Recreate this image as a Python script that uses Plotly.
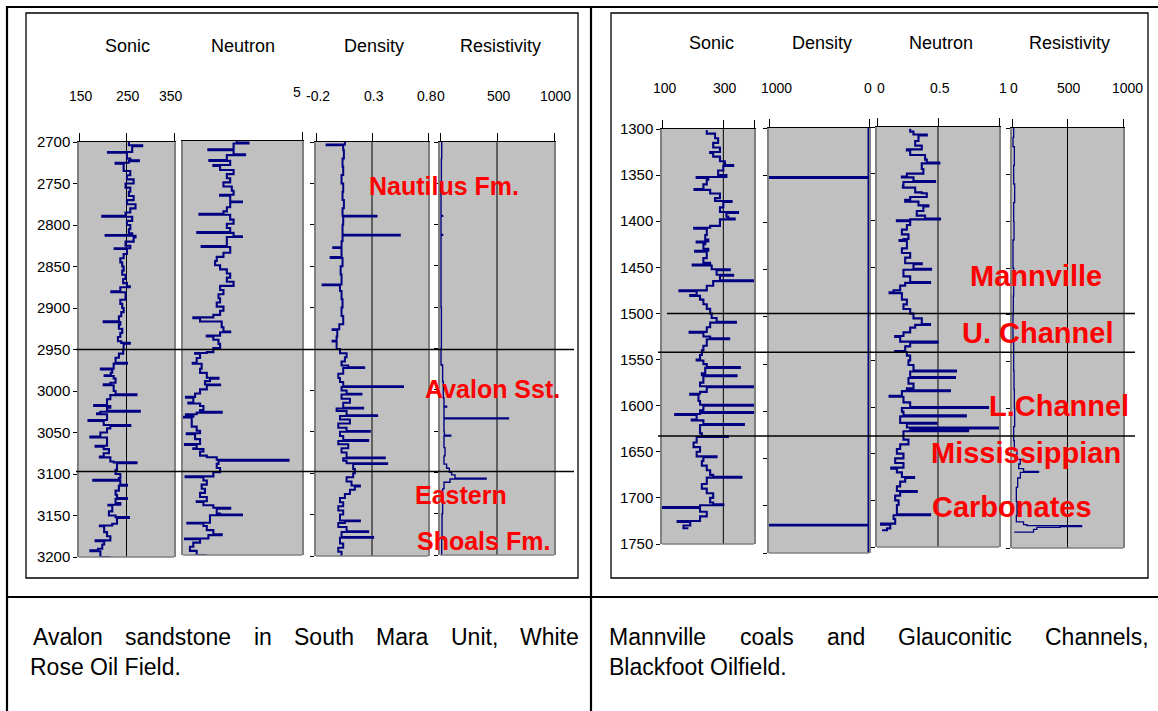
import plotly.graph_objects as go

# ---------------- data ----------------
# Left well: Avalon sandstone, South Mara Unit (depth 2700-3200)
L_SONIC_DEPTH = [2700,2704,2705,2712,2713,2720,2722,2723,2725,2726,
                 2730,2735,2740,2745,2750,2755,2760,2765,2770,2775,
                 2780,2785,2789,2790,2795,2800,2805,2810,2812,2813,
                 2815,2820,2825,2828,2829,2835,2840,2845,2850,2855,
                 2860,2865,2870,2874,2875,2880,2881,2885,2890,2895,
                 2900,2905,2910,2916,2917,2920,2925,2930,2935,2940,
                 2942,2943,2945,2950,2955,2960,2966,2967,2973,2974,
                 2978,2981,2982,2985,2990,2992,2993,2995,3000,3004,
                 3005,3010,3017,3018,3020,3024,3025,3027,3028,3030,
                 3035,3036,3041,3042,3045,3050,3055,3056,3060,3066,
                 3067,3070,3075,3079,3080,3085,3086,3087,3090,3095,
                 3100,3105,3107,3108,3113,3114,3120,3125,3129,3130,
                 3135,3137,3138,3140,3145,3150,3152,3153,3155,3160,
                 3162,3163,3165,3170,3175,3180,3181,3185,3190,3192,
                 3193,3195,3200]
L_SONIC = [255,283,262,211,251,258,276,255,227,244,
           244,258,251,265,248,258,255,265,251,269,
           258,248,199,262,251,258,255,262,206,269,
           265,248,258,225,251,244,237,241,244,241,
           248,243,251,257,237,218,248,248,237,241,
           244,239,234,202,237,234,241,237,232,239,
           257,244,244,243,234,227,251,223,196,220,
           217,204,223,227,216,202,223,223,227,271,
           216,209,182,216,209,278,195,188,209,209,
           170,202,258,216,209,195,174,209,209,185,
           202,213,202,194,216,223,271,230,230,227,
           237,234,180,237,251,234,227,230,251,227,
           237,212,220,220,213,227,255,230,230,220,
           194,203,203,209,216,185,203,199,190,174,
           195,195,216]

L_NEUTRON_DEPTH = [2700,2702,2703,2710,2711,2716,2717,2723,2724,2729,
                   2730,2735,2740,2745,2750,2755,2760,2765,2766,2773,
                   2774,2780,2785,2788,2789,2795,2800,2805,2810,2811,
                   2815,2816,2820,2827,2828,2835,2840,2845,2850,2855,
                   2860,2865,2870,2875,2880,2885,2890,2895,2900,2905,
                   2910,2913,2914,2918,2925,2930,2931,2935,2936,2940,
                   2945,2950,2955,2956,2957,2962,2968,2969,2975,2980,
                   2986,2987,2990,2994,2995,3000,3005,3009,3010,3016,
                   3017,3020,3025,3027,3028,3030,3031,3033,3034,3040,
                   3045,3050,3053,3054,3060,3066,3067,3071,3072,3075,
                   3080,3082,3085,3086,3090,3095,3100,3105,3106,3110,
                   3115,3120,3125,3130,3135,3136,3140,3143,3144,3150,
                   3151,3152,3155,3161,3162,3165,3170,3175,3176,3180,
                   3181,3185,3190,3195,3200]
L_NEUTRON = [0.179,0.120,0.195,0.322,0.195,0.137,0.229,0.317,0.212,0.297,
             0.263,0.195,0.229,0.212,0.246,0.204,0.195,0.263,0.212,0.153,
             0.212,0.229,0.246,0.367,0.212,0.195,0.229,0.212,0.378,0.195,
             0.153,0.229,0.229,0.356,0.212,0.246,0.280,0.288,0.263,0.229,
             0.212,0.229,0.195,0.263,0.246,0.271,0.263,0.280,0.246,0.263,
             0.297,0.398,0.364,0.255,0.246,0.212,0.263,0.330,0.297,0.271,
             0.263,0.297,0.330,0.389,0.364,0.381,0.401,0.356,0.364,0.330,
             0.271,0.314,0.339,0.263,0.330,0.364,0.389,0.435,0.398,0.423,
             0.364,0.347,0.364,0.255,0.381,0.435,0.398,0.448,0.406,0.406,
             0.381,0.364,0.431,0.389,0.364,0.440,0.381,0.398,0.347,0.364,
             0.330,0.280,-0.082,0.271,0.280,0.263,0.297,0.437,0.347,0.330,
             0.356,0.339,0.364,0.330,0.381,0.347,0.297,0.212,0.280,0.263,
             0.153,0.314,0.314,0.428,0.347,0.330,0.297,0.255,0.322,0.440,
             0.364,0.398,0.415,0.381,0.330]

L_DENSITY_DEPTH = [2700,2703,2704,2710,2720,2730,2740,2750,2760,2770,
                   2780,2789,2790,2800,2812,2813,2820,2827,2828,2839,
                   2840,2850,2860,2872,2873,2880,2890,2900,2910,2920,
                   2926,2927,2935,2940,2941,2950,2955,2960,2965,2970,
                   2972,2973,2980,2985,2990,2995,2996,3000,3004,3005,
                   3010,3015,3021,3022,3025,3030,3031,3035,3040,3045,
                   3049,3050,3055,3060,3061,3065,3070,3075,3081,3082,
                   3085,3088,3089,3095,3100,3105,3110,3115,3116,3120,
                   3125,3130,3135,3140,3145,3150,3157,3158,3160,3165,
                   3170,3171,3177,3178,3185,3190,3195,3200]
L_DENSITY = [0.058,-0.105,0.043,0.049,0.037,0.043,0.028,0.043,0.037,0.049,
             0.037,0.340,0.043,0.037,0.548,0.037,0.028,-0.046,0.028,-0.069,
             0.037,0.020,0.028,-0.141,0.014,0.028,0.037,0.028,0.043,0.008,
             -0.052,-0.010,-0.016,-0.052,-0.016,0.014,0.073,0.058,0.028,0.088,
             0.230,0.043,-0.001,0.014,0.043,0.577,0.028,0.073,0.206,0.028,
             0.103,0.043,0.221,-0.016,0.073,0.346,0.014,0.103,-0.001,0.073,
             0.281,0.014,0.043,0.266,-0.001,0.088,0.028,0.073,0.414,0.043,
             0.073,0.435,0.132,0.147,0.132,0.073,0.117,0.192,0.147,0.103,
             0.058,0.014,0.043,-0.001,0.043,0.014,0.192,0.058,-0.001,0.073,
             0.266,0.028,0.310,0.014,0.043,-0.001,0.028,0.014]

L_RESIST_DEPTH = [2700,2720,2750,2789,2790,2812,2813,2850,2900,2950,
                  2970,2990,3010,3020,3021,3034,3035,3050,3055,3056,
                  3070,3080,3090,3095,3100,3103,3107,3108,3112,3120,
                  3150,3180,3200]
L_RESIST = [15,12,9,23,9,23,9,9,12,9,
            23,29,35,58,35,600,35,38,94,35,
            44,35,58,82,102,132,404,88,35,23,
            18,15,12]

# Right well: Mannville / Glauconitic channels, Blackfoot (depth 1300-1750)
R_SONIC_DEPTH = [1301,1305,1310,1315,1320,1325,1326,1330,1335,1339,
                 1340,1345,1350,1352,1353,1355,1360,1365,1366,1370,
                 1375,1378,1379,1385,1390,1391,1395,1397,1398,1400,
                 1405,1407,1408,1415,1420,1422,1423,1425,1430,1432,
                 1433,1440,1445,1447,1448,1450,1452,1453,1458,1459,
                 1464,1465,1470,1475,1476,1480,1481,1485,1490,1495,
                 1500,1505,1509,1510,1515,1520,1521,1525,1527,1528,
                 1535,1540,1545,1550,1551,1555,1558,1559,1565,1567,
                 1568,1575,1579,1580,1585,1587,1588,1595,1599,1600,
                 1605,1607,1608,1609,1610,1615,1616,1620,1621,1625,
                 1630,1633,1634,1640,1645,1650,1655,1656,1660,1665,
                 1670,1675,1677,1678,1685,1690,1695,1700,1705,1707,
                 1708,1710,1711,1715,1720,1725,1726,1730,1733]
R_SONIC = [246,273,283,267,289,257,267,289,305,332,
           300,283,310,213,251,246,235,206,257,289,
           273,327,300,289,348,310,316,337,289,289,
           257,205,246,241,251,213,241,235,251,208,
           246,235,257,200,262,262,321,278,332,289,
           397,267,246,157,213,192,224,235,246,257,
           262,278,341,257,246,190,235,257,319,246,
           235,230,224,213,235,246,354,241,230,343,
           235,224,400,246,224,192,219,224,397,235,
           224,399,224,143,213,197,235,367,224,224,
           230,315,213,203,224,213,278,235,230,246,
           257,267,359,246,230,246,267,257,267,300,
           224,100,224,246,224,151,192,170,186]

R_DENSITY_DEPTH = [1300,1352,1352,1353,1353,1720,1720,1721,1721,1750]
R_DENSITY = [5,5,1000,1000,5,5,1000,1000,5,5]

R_NEUTRON_DEPTH = [1302,1305,1308,1309,1315,1320,1324,1325,1330,1335,
                   1338,1339,1345,1350,1353,1354,1358,1359,1363,1365,
                   1370,1371,1375,1378,1380,1384,1385,1390,1395,1398,
                   1399,1400,1401,1405,1410,1415,1420,1421,1422,1430,
                   1435,1440,1446,1447,1452,1453,1460,1466,1467,1470,
                   1475,1477,1478,1485,1490,1495,1500,1505,1511,1512,
                   1515,1520,1524,1525,1530,1531,1535,1540,1541,1545,
                   1550,1555,1561,1562,1568,1569,1575,1580,1582,1583,
                   1588,1589,1595,1600,1601,1605,1609,1610,1617,1618,
                   1622,1623,1625,1626,1630,1635,1640,1645,1650,1655,
                   1660,1665,1666,1670,1675,1676,1680,1685,1690,1691,
                   1695,1700,1705,1715,1716,1720,1725,1726,1730,1732]
R_NEUTRON = [0.272,0.299,0.408,0.340,0.313,0.367,0.245,0.272,0.394,0.408,
             0.511,0.367,0.380,0.245,0.204,0.299,0.476,0.217,0.212,0.313,
             0.367,0.408,0.272,0.231,0.340,0.421,0.380,0.326,0.394,0.516,
             0.272,0.163,0.272,0.245,0.204,0.258,0.217,0.185,0.245,0.204,
             0.272,0.231,0.367,0.299,0.443,0.217,0.272,0.435,0.231,0.190,
             0.136,0.103,0.204,0.245,0.217,0.272,0.299,0.367,0.435,0.313,
             0.272,0.217,0.149,0.190,0.497,0.272,0.231,0.149,0.245,0.272,
             0.258,0.299,0.647,0.272,0.639,0.258,0.299,0.245,0.598,0.204,
             0.103,0.217,0.272,0.910,0.204,0.217,0.728,0.190,0.489,0.245,
             0.992,0.272,0.747,0.217,0.217,0.258,0.190,0.163,0.217,0.149,
             0.217,0.117,0.163,0.204,0.304,0.231,0.190,0.163,0.326,0.190,
             0.149,0.177,0.163,0.435,0.136,0.149,0.033,0.109,0.082,0.041]

R_RESIST_DEPTH = [1300,1310,1320,1340,1360,1380,1400,1420,1450,1480,
                  1500,1530,1560,1580,1600,1620,1635,1645,1650,1655,
                  1660,1665,1668,1669,1675,1685,1700,1715,1722,1725,
                  1726,1727,1728,1730,1733]
R_RESIST = [15,9,21,15,24,15,18,9,15,12,
            9,15,18,21,24,15,21,45,30,75,
            60,104,239,75,51,39,45,39,104,134,
            627,433,224,194,20]

# formation tops
L_TOPS = [2950, 3097]
R_TOPS = [1500, 1542, 1633]

# texts
L_HEADERS = ["Sonic", "Neutron", "Density", "Resistivity"]
R_HEADERS = ["Sonic", "Density", "Neutron", "Resistivity"]
L_SCALE_LABELS = ["150", "250", "350", "5", "-0.2", "0.3", "0.8", "0", "500", "1000"]
R_SCALE_LABELS = ["100", "300", "1000", "0", "0", "0.5", "1", "0", "500", "1000"]
L_FORMATIONS = ["Nautilus Fm.", "Avalon Sst.", "Eastern", "Shoals Fm."]
R_FORMATIONS = ["Mannville", "U. Channel", "L.Channel", "Mississippian", "Carbonates"]
L_CAPTION = ["Avalon sandstone in South Mara Unit, White", "Rose Oil Field."]
R_CAPTION = ["Mannville coals and Glauconitic Channels,", "Blackfoot Oilfield."]

# ---------------- layout helpers ----------------
W, H = 1158, 711
def px(x): return x / W
def py(y): return 1 - y / H

NAVY = "#000080"
EDGE = "#808080"
FONT = "Arial, Liberation Sans, sans-serif"

TRACKS = [
    dict(x0=79, x1=174, yt=142, yb=557, xr=[150, 350], tv=[150, 250, 350], mid=250, lt="labels", dr=[3200, 2700], t0=2700),
    dict(x0=183, x1=302, yt=141, yb=555, xr=[0.45, -0.15], tv=[-0.15], mid=None, lt=None, dr=[3200, 2700], t0=2700),
    dict(x0=316, x1=428, yt=142, yb=556, xr=[-0.2, 0.8], tv=[-0.2, 0.3, 0.8], mid=0.3, lt="ticks", dr=[3200, 2700], t0=2700),
    dict(x0=440, x1=554, yt=142, yb=555, xr=[0, 1000], tv=[0, 500, 1000], mid=500, lt="ticks", dr=[3200, 2700], t0=2700),
    dict(x0=662, x1=754, yt=129, yb=544, xr=[100, 400], tv=[100, 300, 400], mid=300, lt="labels", dr=[1750, 1300], t0=1300),
    dict(x0=769, x1=869, yt=128, yb=553, xr=[1000, 0], tv=[1000, 0], mid=None, lt="ticks", dr=[1750, 1300], t0=1300),
    dict(x0=877, x1=999, yt=127, yb=547, xr=[0, 1], tv=[0, 0.5, 1], mid=0.5, lt="ticks", dr=[1750, 1300], t0=1300),
    dict(x0=1012, x1=1123, yt=128, yb=548, xr=[0, 1000], tv=[0, 500, 1000], mid=500, lt="ticks", dr=[1750, 1300], t0=1300),
]

# (values, depths, line shape, line width)
CURVES = [
    (L_SONIC, L_SONIC_DEPTH, "vh", 2.1), (L_NEUTRON, L_NEUTRON_DEPTH, "vh", 2.1),
    (L_DENSITY, L_DENSITY_DEPTH, "vh", 2.0), (L_RESIST, L_RESIST_DEPTH, "vh", 1.4),
    (R_SONIC, R_SONIC_DEPTH, "vh", 2.1), (R_DENSITY, R_DENSITY_DEPTH, "linear", 2.0),
    (R_NEUTRON, R_NEUTRON_DEPTH, "vh", 2.1), (R_RESIST, R_RESIST_DEPTH, "vh", 1.3),
]

fig = go.Figure()
layout = {}
shapes = []
for i, (t, (vals, deps, shp, lw)) in enumerate(zip(TRACKS, CURVES)):
    assert len(vals) == len(deps)
    n = "" if i == 0 else str(i + 1)
    fig.add_trace(go.Scatter(x=vals, y=deps, mode="lines", xaxis="x" + n, yaxis="y" + n,
                             line=dict(color=NAVY, width=lw, shape=shp),
                             showlegend=False, hoverinfo="skip"))
    layout["xaxis" + n] = dict(domain=[px(t["x0"]), px(t["x1"])], range=t["xr"], anchor="y" + n,
                               side="top", showline=True, linecolor="black", linewidth=1,
                               ticks="outside", ticklen=8, tickcolor="black", tickwidth=1,
                               tickmode="array", tickvals=t["tv"], showticklabels=False,
                               showgrid=False, zeroline=False, fixedrange=True, automargin=False)
    layout["yaxis" + n] = dict(domain=[py(t["yb"]), py(t["yt"])], range=t["dr"], anchor="x" + n,
                               showline=True, linecolor=EDGE, linewidth=1.5, mirror=True,
                               ticks="outside" if t["lt"] else "", ticklen=4, tickcolor="black",
                               tickmode="linear", tick0=t["t0"], dtick=50,
                               showticklabels=(t["lt"] == "labels"),
                               tickfont=dict(size=15, family=FONT, color="black"),
                               showgrid=False, zeroline=False, fixedrange=True, automargin=False)
    # bottom edge of track
    shapes.append(dict(type="line", xref="x" + n + " domain", yref="y" + n + " domain",
                       x0=0, x1=1, y0=0, y1=0, line=dict(color=EDGE, width=1.5)))
    if t["mid"] is not None:
        shapes.append(dict(type="line", xref="x" + n, yref="y" + n + " domain",
                           x0=t["mid"], x1=t["mid"], y0=0, y1=1, layer="below",
                           line=dict(color="black", width=1)))

# formation top lines
for d in L_TOPS:
    shapes.append(dict(type="line", xref="paper", yref="y", x0=px(76), x1=px(574),
                       y0=d, y1=d, line=dict(color="black", width=1.5)))
for j, d in enumerate(R_TOPS):
    shapes.append(dict(type="line", xref="paper", yref="y5", x0=px(667 if j == 0 else 658), x1=px(1135),
                       y0=d, y1=d, line=dict(color="black", width=1.5)))

# table / frame lines
def pline(x0, y0, x1, y1, w):
    shapes.append(dict(type="line", xref="paper", yref="paper", x0=px(x0), x1=px(x1),
                       y0=py(y0), y1=py(y1), line=dict(color="black", width=w)))
pline(6, 7, 1158, 7, 2.2)
pline(7, 6, 7, 711, 2.2)
pline(591, 6, 591, 711, 2.2)
pline(6, 597, 1158, 597, 2.2)
for (a, b) in [(26, 578), (611, 1148)]:
    shapes.append(dict(type="rect", xref="paper", yref="paper", x0=px(a), x1=px(b),
                       y0=py(578), y1=py(13), line=dict(color="black", width=1.3)))

ann = []
def text(x, y, s, size, color="black", anchor="center", bold=False):
    ann.append(dict(x=px(x), y=py(y), xref="paper", yref="paper", text=("<b>%s</b>" % s) if bold else s,
                    showarrow=False, xanchor=anchor, yanchor="middle",
                    font=dict(family=FONT, size=size, color=color)))

for s, x in zip(L_HEADERS, [127, 243, 374, 500]):
    text(x, 46, s, 18)
for s, x in zip(R_HEADERS, [711, 822, 941, 1069]):
    text(x, 43, s, 18)
for s, x in zip(L_SCALE_LABELS, [81, 128, 171, 297, 318, 374, 427, 441, 499, 555]):
    text(x, 96 if s != "5" else 92, s, 14)
for s, x in zip(R_SCALE_LABELS, [665, 725, 776, 868, 881, 940, 1003, 1014, 1069, 1127]):
    text(x, 88, s, 14)

RED = "#ff0000"
for s, (x, y) in zip(L_FORMATIONS, [(444, 186), (492, 389), (461, 495), (483, 541)]):
    text(x, y, s, 25, RED, bold=True)
for s, (x, y) in zip(R_FORMATIONS, [(1036, 276), (1037, 333), (1059, 406), (1026, 453), (1012, 507)]):
    text(x, y, s, 29, RED, bold=True)

# justified captions (Arial metrics, 1/1000 em)
AW = {' ': 278, ',': 278, '.': 278, 'A': 667, 'B': 667, 'C': 722, 'F': 611, 'G': 778, 'M': 833,
      'O': 778, 'R': 722, 'S': 667, 'U': 722, 'W': 944, 'a': 556, 'b': 556, 'c': 500, 'd': 556,
      'e': 556, 'f': 278, 'h': 556, 'i': 222, 'k': 500, 'l': 222, 'n': 556, 'o': 556, 'r': 333,
      's': 500, 't': 278, 'u': 556, 'v': 500, 'y': 500}
CAP = 23
def wlen(w): return sum(AW.get(c, 556) for c in w) * CAP / 1000.0
def justify(line, x0, x1, y):
    words = line.split(" ")
    total = sum(wlen(w) for w in words)
    gap = (x1 - x0 - total) / (len(words) - 1)
    x = x0
    for w in words:
        text(x, y, w, CAP, anchor="left")
        x += wlen(w) + gap

justify(L_CAPTION[0], 31, 577, 637)
text(28, 667, L_CAPTION[1], CAP, anchor="left")
justify(R_CAPTION[0], 607, 1147, 637)
text(607, 667, R_CAPTION[1], CAP, anchor="left")

layout.update(dict(width=W, height=H, margin=dict(l=0, r=0, t=0, b=0, pad=0, autoexpand=False),
                   paper_bgcolor="white", plot_bgcolor="#c0c0c0",
                   shapes=shapes, annotations=ann, hovermode=False, showlegend=False))
fig.update_layout(**layout)
fig.write_html("out.html", config={"displayModeBar": False},
               post_script="document.body.style.margin='0';document.body.style.overflow='hidden';"
                           "document.documentElement.style.overflow='hidden';")
